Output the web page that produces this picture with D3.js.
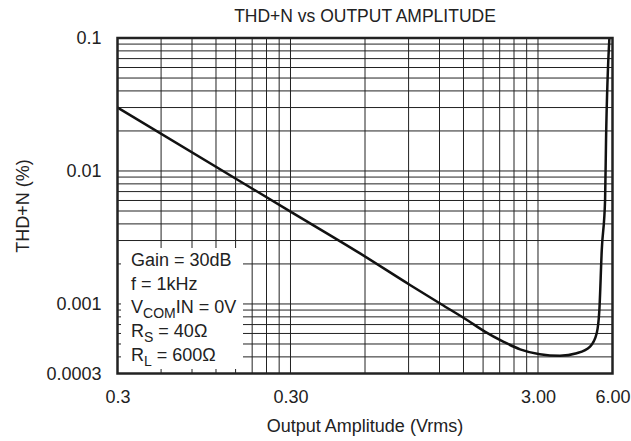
<!DOCTYPE html>
<html lang="en">
<head>
<meta charset="UTF-8" />
<title>THD+N vs Output Amplitude</title>
<script src="https://cdn.jsdelivr.net/npm/d3@7"></script>
<style>
  body { margin: 0; background: #fff; }
  svg text { font-family: "Liberation Sans", Arial, sans-serif; fill: #222; }
</style>
</head>
<body>
<div id="container"></div>
<script>
// curve (Vrms, %)
const amplitude = [0.06, 0.3, 0.573, 0.912, 1.22, 1.55, 1.83, 2.17, 2.54, 3.05, 3.68, 4.30, 4.87, 5.18, 5.31, 5.43, 5.60, 5.65, 5.83]
const thdn = [0.03, 0.00495, 0.0024, 0.00139, 0.000995, 0.000758, 0.000619, 0.000521, 0.000456, 0.000419, 0.000408, 0.000426, 0.000478, 0.000602, 0.000901, 0.00255, 0.00605, 0.0171, 0.1]

// tick labels as printed
const xTickValues = [0.06, 0.3, 3, 6]
const xTickLabels = ['0.3', '0.30', '3.00', '6.00']
const yTickValues = [0.0003, 0.001, 0.01, 0.1]
const yTickLabels = ['0.0003', '0.001', '0.01', '0.1']

// grid lines
const xGrid = [0.09, 0.12, 0.15, 0.18, 0.21, 0.24, 0.27, 0.3, 0.6, 0.9, 1.2, 1.5, 1.8, 2.1, 2.4, 2.7, 3]
const yGrid = [0.0004, 0.0005, 0.0006, 0.0007, 0.0008, 0.0009,
  0.001, 0.002, 0.003, 0.004, 0.005, 0.006, 0.007, 0.008, 0.009,
  0.01, 0.02, 0.03, 0.04, 0.05, 0.06, 0.07, 0.08, 0.09]

const legendLines = [
  [['Gain = 30dB', false]],
  [['f = 1kHz', false]],
  [['V', false], ['COM', true], ['IN = 0V', false]],
  [['R', false], ['S', true], [' = 40\u03A9', false]],
  [['R', false], ['L', true], [' = 600\u03A9', false]]
]

const width = 631
const height = 441
const plotLeft = 117.5, plotRight = 612.5, plotTop = 38, plotBottom = 373.5

const x = d3.scaleLog().domain([0.06, 6]).range([plotLeft, plotRight])
const y = d3.scaleLog().domain([0.0003, 0.1]).range([plotBottom, plotTop])

const svg = d3.create('svg')
  .attr('width', width)
  .attr('height', height)
  .attr('viewBox', [0, 0, width, height])

// grid
svg.append('g')
  .attr('stroke', '#222')
  .attr('stroke-width', 1)
  .selectAll('line')
  .data(xGrid)
  .join('line')
  .attr('x1', d => x(d)).attr('x2', d => x(d))
  .attr('y1', plotTop).attr('y2', plotBottom)

svg.append('g')
  .attr('stroke', '#222')
  .attr('stroke-width', 1)
  .selectAll('line')
  .data(yGrid)
  .join('line')
  .attr('x1', plotLeft).attr('x2', plotRight)
  .attr('y1', d => y(d)).attr('y2', d => y(d))

// legend box hides grid behind it
const legend = svg.append('g')
legend.append('rect')
  .attr('x', 121).attr('y', 248)
  .attr('width', 122).attr('height', 121)
  .attr('fill', '#fff')

legend.selectAll('text')
  .data(legendLines)
  .join('text')
  .attr('x', 131)
  .attr('y', (d, i) => 265.7 + i * 23.8)
  .attr('font-size', 18)
  .each(function (parts) {
    const t = d3.select(this)
    parts.forEach(([txt, sub], k) => {
      const span = t.append('tspan').text(txt)
      if (sub) span.attr('font-size', 14).attr('dy', 5)
      else if (k > 0 && parts[k - 1][1]) span.attr('dy', -5)
    })
  })

// curve
const line = d3.line()
  .x((d, i) => x(amplitude[i]))
  .y(d => y(d))
  .curve(d3.curveMonotoneX)

svg.append('path')
  .datum(thdn)
  .attr('fill', 'none')
  .attr('stroke', '#111')
  .attr('stroke-width', 2.5)
  .attr('d', line)

// frame
svg.append('rect')
  .attr('x', plotLeft).attr('y', plotTop)
  .attr('width', plotRight - plotLeft).attr('height', plotBottom - plotTop)
  .attr('fill', 'none')
  .attr('stroke', '#222')
  .attr('stroke-width', 2.5)

// axes
const xAxis = svg.append('g')
  .attr('transform', `translate(0,${plotBottom})`)
  .call(d3.axisBottom(x)
    .tickValues(xTickValues)
    .tickFormat((d, i) => xTickLabels[i])
    .tickSize(0)
    .tickPadding(17))
xAxis.select('.domain').remove()
xAxis.selectAll('text').attr('font-size', 18).attr('fill', '#222')

const yAxis = svg.append('g')
  .attr('transform', `translate(${plotLeft},0)`)
  .call(d3.axisLeft(y)
    .tickValues(yTickValues)
    .tickFormat((d, i) => yTickLabels[i])
    .tickSize(0)
    .tickPadding(16))
yAxis.select('.domain').remove()
yAxis.selectAll('text').attr('font-size', 18).attr('fill', '#222')

// titles
svg.append('text')
  .attr('x', 365).attr('y', 21.7)
  .attr('text-anchor', 'middle')
  .attr('font-size', 17.5)
  .text('THD+N vs OUTPUT AMPLITUDE')

svg.append('text')
  .attr('x', 365).attr('y', 431.5)
  .attr('text-anchor', 'middle')
  .attr('font-size', 18)
  .text('Output Amplitude (Vrms)')

svg.append('text')
  .attr('transform', 'translate(29,206) rotate(-90)')
  .attr('text-anchor', 'middle')
  .attr('font-size', 18)
  .text('THD+N (%)')

container.append(svg.node())
</script>
</body>
</html>
